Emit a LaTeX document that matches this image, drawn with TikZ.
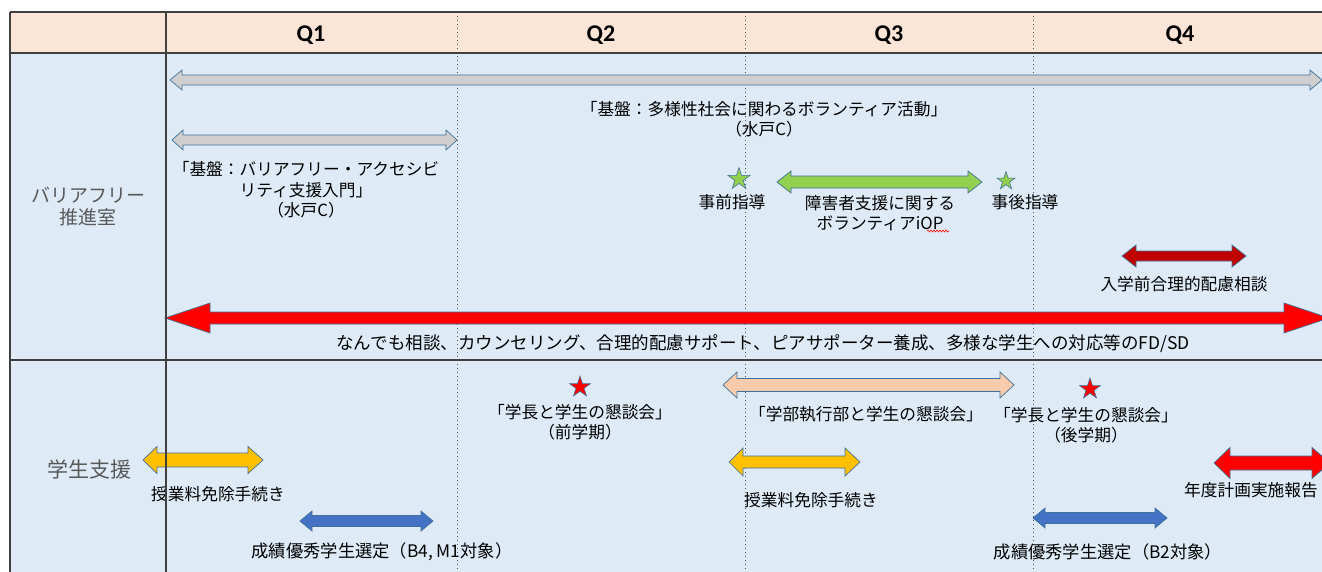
\documentclass[tikz,border=0pt]{standalone}
\usepackage{fontspec}
\newfontfamily\jp{Noto Sans CJK JP}
\newfontfamily\hdr{Carlito}
\usetikzlibrary{shapes.geometric,decorations.pathmorphing}
\definecolor{hdrfill}{HTML}{FBE5D6}
\definecolor{bodyfill}{HTML}{DEEBF7}
\definecolor{gridline}{HTML}{404040}
\definecolor{dotline}{HTML}{595959}
\definecolor{arrline}{HTML}{41719C}
\definecolor{grayfill}{HTML}{D0CECE}
\definecolor{greenfill}{HTML}{92D050}
\definecolor{darkredfill}{HTML}{C00000}
\definecolor{peachfill}{HTML}{F8CBAD}
\definecolor{goldfill}{HTML}{FFC000}
\definecolor{bluefill}{HTML}{4472C4}
\definecolor{labelgray}{HTML}{595959}
\definecolor{redfill}{HTML}{FF0000}
% x1 x2 y shafthalf headhalf headlenL headlenR style
\newcommand\dblarrow[8]{%
  \draw[#8] (#1,#3) -- ({#1+#6},{#3-#5}) -- ({#1+#6},{#3-#4}) -- ({#2-#7},{#3-#4})
    -- ({#2-#7},{#3-#5}) -- (#2,#3) -- ({#2-#7},{#3+#5}) -- ({#2-#7},{#3+#4})
    -- ({#1+#6},{#3+#4}) -- ({#1+#6},{#3+#5}) -- cycle;}
\tikzset{
  lbl/.style={font=\jp\fontsize{16.7}{20.5}\selectfont, inner sep=0pt, align=center, text=black},
  rowlbl/.style={font=\jp\fontsize{19}{22}\selectfont, inner sep=0pt, align=center, text=labelgray},
  qlbl/.style={font=\hdr\bfseries\fontsize{24}{26}\selectfont, inner sep=0pt, text=black},
  arrbox/.style={draw=arrline, line width=0.7pt, line join=miter},
  grid/.style={draw=gridline, line width=1.4pt},
  qdiv/.style={draw=dotline, line width=0.9pt, dash pattern=on 1pt off 3pt},
  mystar/.style={star, star points=5, star point ratio=2.6, inner sep=0pt, minimum size=#1, draw=arrline, line width=0.6pt},
}
\begin{document}
\begin{tikzpicture}[x=1pt,y=-1pt]
\useasboundingbox (0,0) rectangle (1322,571);
\begin{scope}
\clip (0,0) rectangle (1322,571);
\fill[white] (0,0) rectangle (1322,571);
\fill[hdrfill] (10,12) rectangle (1330,53);
\fill[bodyfill] (10,53) rectangle (1330,580);
% quarter dividers
\draw[qdiv] (457,12) -- (457,580);
\draw[qdiv] (745,12) -- (745,580);
\draw[qdiv] (1033,12) -- (1033,580);
% header
\node[qlbl] (q1) at (311,35) {Q1};
\node[qlbl] (q2) at (601,35) {Q2};
\node[qlbl] (q3) at (889,35) {Q3};
\node[qlbl] (q4) at (1180,35) {Q4};
% row labels
\node[rowlbl] (r1) at (88,206) {バリアフリー\\推進室};
\node[rowlbl, font=\jp\fontsize{21}{22}\selectfont] (r2) at (89,469) {学生支援};

% ---- row 1 ----
\dblarrow{170}{1322}{80}{5}{10}{12}{12}{arrbox, fill=grayfill}
\node[lbl] (t1) at (764,119) {「基盤：多様性社会に関わるボランティア活動」\\（水戸C）};
\dblarrow{172}{457}{140}{5}{10}{11}{11}{arrbox, fill=grayfill}
\node[lbl] (t2) at (306,190) {「基盤：バリアフリー・アクセシビ\\リティ支援入門」\\（水戸C）};

\node[mystar=23pt, fill=greenfill] (s1) at (739,179) {};
\node[lbl] (t3) at (732,202) {事前指導};
\dblarrow{777}{982}{182}{6}{11}{14}{14}{arrbox, fill=greenfill}
\node[lbl] (t4) at (880,213) {障害者支援に関する\\ボランティアiOP};
\draw[red, line width=0.6pt, decorate, decoration={snake, amplitude=0.9pt, segment length=3pt}] (927,231) -- (949,231);
\node[mystar=19pt, fill=greenfill] (s2) at (1006,181) {};
\node[lbl] (t5) at (1025,202) {事後指導};

\dblarrow{1122}{1246}{256}{5}{11}{14}{14}{arrbox, fill=darkredfill}
\node[lbl] (t6) at (1184,284) {入学前合理的配慮相談};

\dblarrow{165}{1329}{318}{6}{15}{45}{45}{arrbox, fill=redfill}
\node[lbl, font=\jp\fontsize{17.5}{20.5}\selectfont] (t7) at (763,344) {なんでも相談、カウンセリング、合理的配慮サポート、ピアサポーター養成、多様な学生への対応等のFD/SD};

% ---- row 2 ----
\node[mystar=22pt, fill=redfill] (s3) at (580,387) {};
\node[lbl] (t8) at (580,422) {「学長と学生の懇談会」\\（前学期）};
\dblarrow{723}{1014}{385}{6.5}{13}{14}{14}{arrbox, fill=peachfill}
\node[lbl] (t9) at (866,414) {「学部執行部と学生の懇談会」};
\node[mystar=22pt, fill=redfill] (s4) at (1090,389) {};
\node[lbl] (t10) at (1086,425) {「学長と学生の懇談会」\\（後学期）};

\dblarrow{143}{263}{460}{7}{13.5}{14}{15}{arrbox, fill=goldfill}
\node[lbl] (t11) at (218,494) {授業料免除手続き};
\dblarrow{729}{860}{462}{6}{14}{14}{15}{arrbox, fill=goldfill}
\node[lbl] (t12) at (811,500) {授業料免除手続き};
\dblarrow{1214}{1330}{463}{7}{15.5}{16}{18}{arrbox, fill=redfill}
\node[lbl] (t13) at (1251,490) {年度計画実施報告};

\dblarrow{300}{433}{521}{5.5}{10}{12}{12}{arrbox, fill=bluefill}
\node[lbl, font=\jp\fontsize{17.3}{20.5}\selectfont] (t14) at (382,552) {成績優秀学生選定（B4, M1対象）};
\dblarrow{1033}{1167}{518}{5.5}{10}{12}{12}{arrbox, fill=bluefill}
\node[lbl, font=\jp\fontsize{17.3}{20.5}\selectfont] (t15) at (1108,552) {成績優秀学生選定（B2対象）};

% grid lines
\draw[grid] (10,12) -- (1330,12);
\draw[grid] (10,53) -- (1330,53);
\draw[grid] (10,360) -- (1330,360);
\draw[grid] (10,12) -- (10,580);
\draw[grid] (166,12) -- (166,580);
\end{scope}
\end{tikzpicture}
\end{document}
